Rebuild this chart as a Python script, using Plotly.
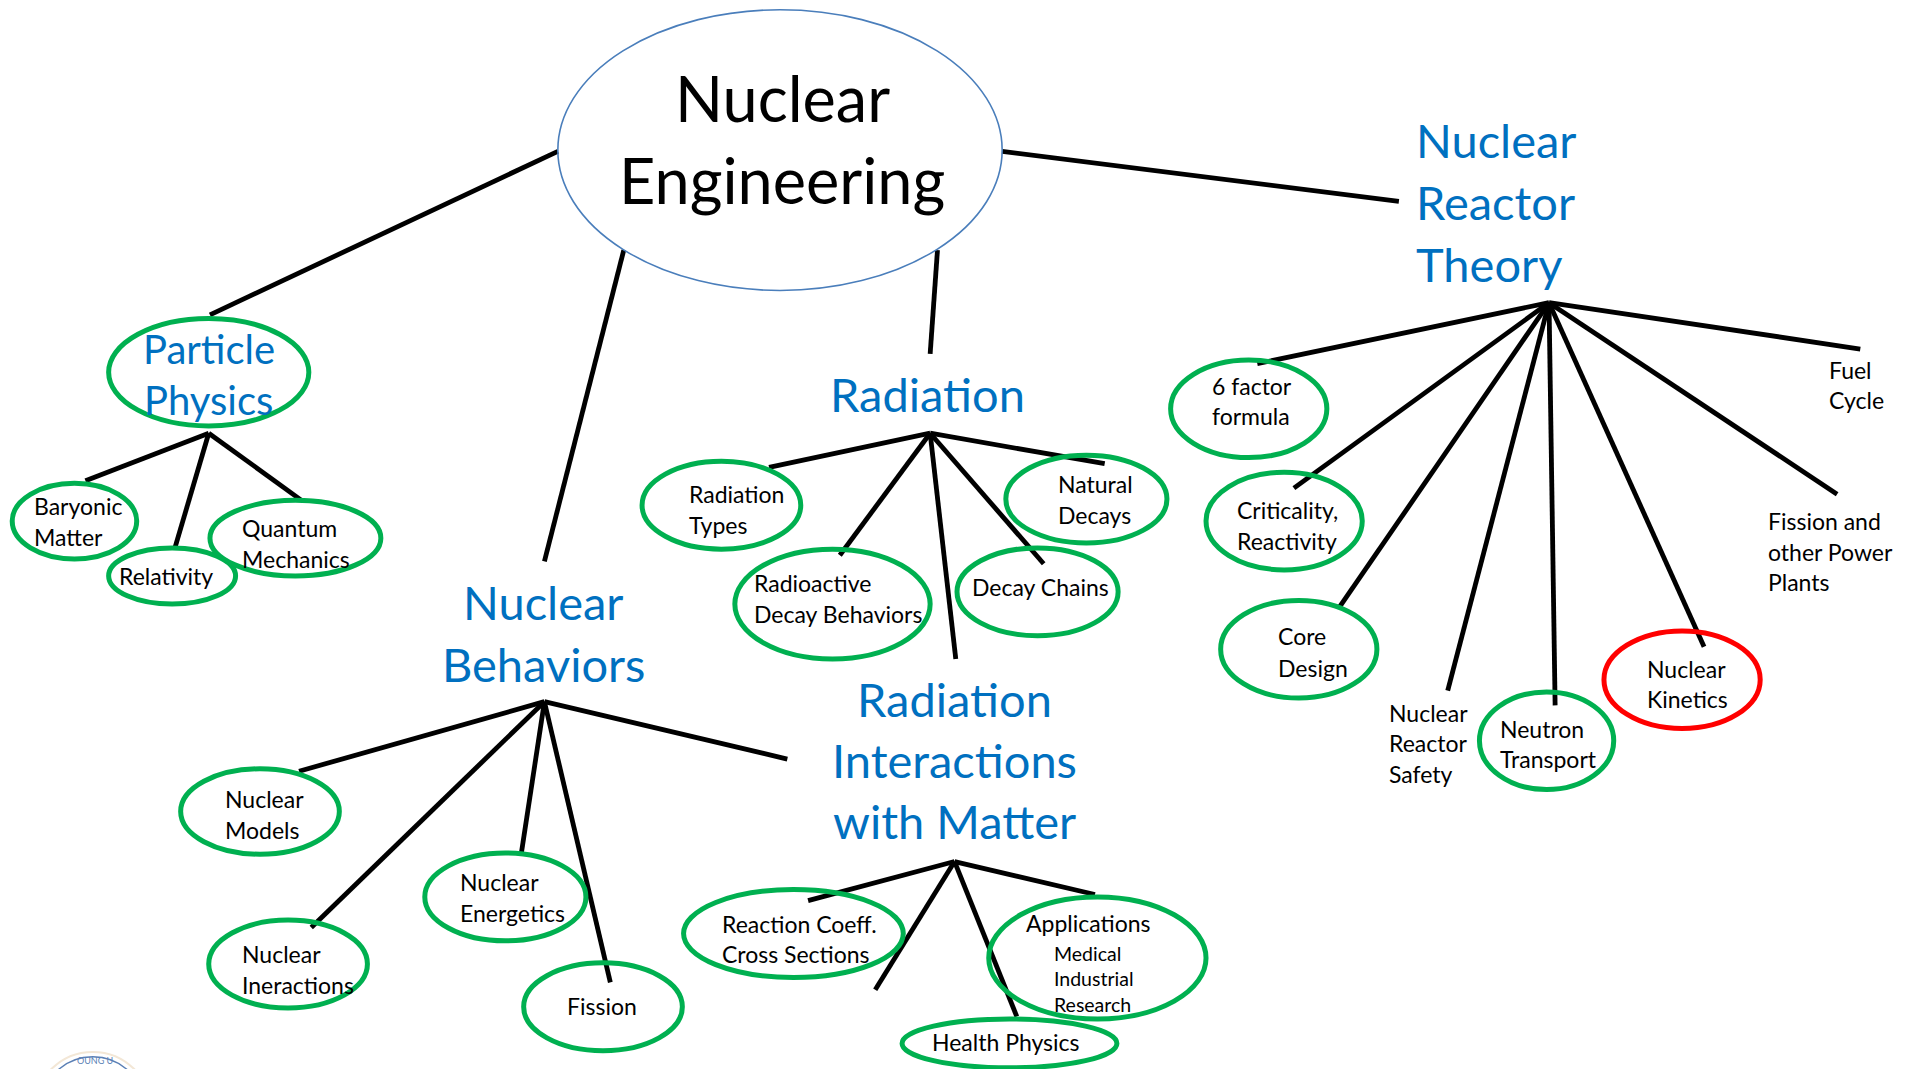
import plotly.graph_objects as go

# ---------------- data (labels) ----------------
root_label = ["Nuclear", "Engineering"]

topic_labels = [
    ["Particle", "Physics"],
    ["Nuclear", "Behaviors"],
    ["Radiation"],
    ["Radiation", "Interactions", "with Matter"],
    ["Nuclear", "Reactor", "Theory"],
]

leaf_labels = [
    ["Baryonic", "Matter"],
    ["Relativity"],
    ["Quantum", "Mechanics"],
    ["Nuclear", "Models"],
    ["Nuclear", "Ineractions"],
    ["Nuclear", "Energetics"],
    ["Fission"],
    ["Radiation", "Types"],
    ["Radioactive", "Decay Behaviors"],
    ["Natural", "Decays"],
    ["Decay Chains"],
    ["Reaction Coeff.", "Cross Sections"],
    ["Applications"],
    ["Health Physics"],
    ["6 factor", "formula"],
    ["Criticality,", "Reactivity"],
    ["Core", "Design"],
    ["Nuclear", "Reactor", "Safety"],
    ["Neutron", "Transport"],
    ["Nuclear", "Kinetics"],
    ["Fission and", "other Power", "Plants"],
    ["Fuel", "Cycle"],
]
application_items = ["Medical", "Industrial", "Research"]

# ---------------- layout (positions in reference-image units, 1568 x 876) ----------------
W, H = 1568, 876

root_text_pos = [(641, 80), (641, 147)]
root_ellipse = (639, 123, 182, 115)

# (anchor, x, first y, line step)
topic_text_pos = [
    ("center", 171, 286, 42),
    ("center", 445, 493, 51),
    ("center", 760, 323, 50),
    ("center", 782, 573, 50),
    ("left", 1158, 115, 50.5),
]
topic_font = [40, 47, 47, 47, 47]
topic_ellipse = [(171, 305, 82, 44), None, None, None, None]

leaf_text_pos = [
    ("left", 26, 415, 25),
    ("left", 96, 472, 25),
    ("left", 197, 433, 25),
    ("left", 183, 655, 25),
    ("left", 197, 782, 25),
    ("left", 375, 723, 25),
    ("left", 463, 824, 25),
    ("left", 563, 405, 25),
    ("left", 616, 478, 25),
    ("left", 865, 397, 25),
    ("left", 795, 481, 25),
    ("left", 590, 757, 25),
    ("left", 839, 756, 25),
    ("left", 762, 854, 25),
    ("left", 991, 316, 25),
    ("left", 1012, 418, 25),
    ("left", 1045, 521, 26),
    ("left", 1136, 584, 25),
    ("left", 1227, 597, 25),
    ("left", 1348, 548, 25),
    ("left", 1447, 427, 25),
    ("left", 1497, 303, 25),
]
leaf_ellipse = [
    (61, 427, 51, 31), (141, 472, 52, 23), (242, 441, 70, 31),
    (213, 665, 65, 35), (236, 790, 65, 36), (414, 735, 66, 36), (494, 825, 65, 36),
    (591, 414, 65, 36), (682, 495, 80, 45), (890, 409, 66, 36), (850, 485, 66, 36),
    (650, 765, 90, 36), (899, 785, 89, 50), (827, 855, 88, 20),
    (1023, 335, 64, 40), (1052, 427, 64, 40), (1064, 532, 64, 40), None,
    (1267, 607, 55, 40), (1378, 557, 64, 40), None, None,
]
leaf_ring_color = ["#00b050"] * 19 + ["#ff0000"] + ["#00b050"] * 2
app_items_pos = (862, 781, 21)

# connector lines: hub -> ends
edges = [
    ((457, 124), [(172, 258)]),
    ((511, 205), [(446, 460)]),
    ((768, 205), [(762, 290)]),
    ((821, 124), [(1146, 165)]),
    ((171, 355), [(70, 394), (143, 450), (247, 410)]),
    ((446, 575), [(245, 632), (255, 760), (427, 700), (500, 805), (645, 622)]),
    ((762, 355), [(630, 383), (688, 455), (783, 540), (855, 462), (905, 380)]),
    ((782, 706), [(662, 738), (717, 811), (833, 833), (897, 733)]),
    ((1269, 248), [(1030, 298), (1060, 400), (1097, 498), (1186, 566),
                   (1274, 578), (1396, 530), (1505, 405), (1524, 286)]),
]

FONT = "Lato, 'Open Sans', sans-serif"
BLUE = "#0070c0"

fig = go.Figure()

# lines
xs, ys = [], []
for (hx, hy), ends in edges:
    for ex, ey in ends:
        xs += [hx, ex, None]
        ys += [hy, ey, None]
fig.add_trace(go.Scatter(x=xs, y=ys, mode="lines",
                         line=dict(color="black", width=4.8),
                         hoverinfo="skip", showlegend=False))

shapes = []
annotations = []

def ellipse(e, color, width):
    cx, cy, rx, ry = e
    shapes.append(dict(type="circle", xref="x", yref="y",
                       x0=cx - rx, x1=cx + rx, y0=cy - ry, y1=cy + ry,
                       line=dict(color=color, width=width), fillcolor="rgba(0,0,0,0)"))

def text(t, x, y, anchor, size, color):
    annotations.append(dict(x=x, y=y, xref="x", yref="y", text=t, showarrow=False,
                            xanchor=anchor, yanchor="middle",
                            font=dict(family=FONT, size=size, color=color)))

# root
ellipse(root_ellipse, "#4a7ebb", 1.6)
for t, (x, y) in zip(root_label, root_text_pos):
    text(t, x, y, "center", 63, "black")

# topics
for lab, (anc, x, y0, step), fs, e in zip(topic_labels, topic_text_pos, topic_font, topic_ellipse):
    if e:
        ellipse(e, "#00b050", 5)
    for i, t in enumerate(lab):
        text(t, x, y0 + i * step, anc, fs, BLUE)

# leaves
for lab, (anc, x, y0, step), e, c in zip(leaf_labels, leaf_text_pos, leaf_ellipse, leaf_ring_color):
    if e:
        ellipse(e, c, 5)
    for i, t in enumerate(lab):
        text(t, x, y0 + i * step, anc, 23, "black")

ax, ay, astep = app_items_pos
for i, t in enumerate(application_items):
    text(t, ax, ay + i * astep, "left", 19.5, "black")

# partial seal at bottom-left
shapes.append(dict(type="circle", xref="x", yref="y", x0=28, x1=124, y0=862, y1=958,
                   line=dict(color="#f3e7d6", width=2)))
shapes.append(dict(type="circle", xref="x", yref="y", x0=33, x1=119, y0=866, y1=952,
                   line=dict(color="#5a7fb5", width=1.5)))
text("OUNG U", 78, 869, "center", 9, "#5a7fb5")

fig.update_layout(
    width=1914, height=1069,
    margin=dict(l=0, r=0, t=0, b=0),
    paper_bgcolor="white", plot_bgcolor="white",
    xaxis=dict(range=[0, W], visible=False, fixedrange=True),
    yaxis=dict(range=[H, 0], visible=False, fixedrange=True),
    shapes=shapes, annotations=annotations,
    showlegend=False,
)

fig.write_html("out.html", config={"displayModeBar": False},
               post_script="document.body.style.margin='0';document.body.style.overflow='hidden';")
